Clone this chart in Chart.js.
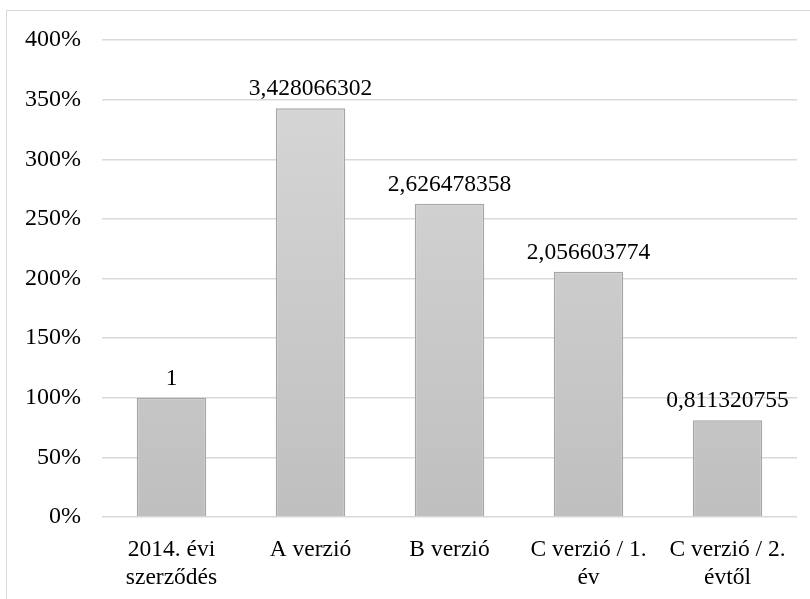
<!DOCTYPE html>
<html lang="hu">
<head>
  <meta charset="UTF-8">
  <title>Verziók összehasonlítása</title>
  <script src="https://cdn.jsdelivr.net/npm/chart.js"></script>
  <style>
    html, body { margin: 0; padding: 0; background: #fff; overflow: hidden; }
    #frame { position: absolute; left: 6px; top: 10px; width: 900px; height: 700px; border: 1.5px solid #d9d9d9; }
    #wrap { position: absolute; left: 0; top: 0; width: 810px; height: 599px; }
  </style>
</head>
<body>
  <div id="frame"></div>
  <div id="wrap"><canvas id="chart" width="810" height="599"></canvas></div>

  <script>
    const categories = [["2014. évi", "szerződés"], "A verzió", "B verzió", ["C verzió / 1.", "év"], ["C verzió / 2.", "évtől"]];
    const values = [1, 3.428066302, 2.626478358, 2.056603774, 0.811320755];
    const valueLabels = ["1", "3,428066302", "2,626478358", "2,056603774", "0,811320755"];
    const yTicks = [0, 0.5, 1, 1.5, 2, 2.5, 3, 3.5, 4];

    const fontFamily = "'Liberation Serif', 'Times New Roman', serif";

    // labels above the bars
    const barLabels = {
      id: "barLabels",
      afterDatasetsDraw(chart) {
        const ctx = chart.ctx;
        const meta = chart.getDatasetMeta(0);
        ctx.save();
        ctx.font = "23.5px " + fontFamily;
        ctx.fillStyle = "#000";
        ctx.textAlign = "center";
        ctx.textBaseline = "alphabetic";
        meta.data.forEach((bar, i) => {
          ctx.fillText(valueLabels[i], bar.x, bar.y - 13);
        });
        ctx.restore();
      }
    };

    new Chart(document.getElementById("chart"), {
      type: "bar",
      data: {
        labels: categories,
        datasets: [{
          data: values,
          backgroundColor: (c) => {
            const area = c.chart.chartArea;
            if (!area) return "#cccccc";
            const g = c.chart.ctx.createLinearGradient(0, area.top, 0, area.bottom);
            g.addColorStop(0, "#d9d9d9");
            g.addColorStop(1, "#bfbfbf");
            return g;
          },
          borderColor: "#a6a6a6",
          borderWidth: 1.5,
          categoryPercentage: 1,
          barPercentage: 0.5
        }]
      },
      options: {
        responsive: false,
        animation: false,
        layout: { padding: { left: 0, right: 13, top: 40, bottom: 0 } },
        plugins: {
          legend: { display: false },
          tooltip: { enabled: false }
        },
        scales: {
          x: {
            grid: { display: false },
            border: { display: false },
            ticks: {
              color: "#000",
              font: { family: fontFamily, size: 23.5, lineHeight: 1.2 },
              padding: 11,
              maxRotation: 0,
              autoSkip: false
            },
            afterFit: (s) => { s.height = 82; }
          },
          y: {
            min: 0,
            max: 4,
            afterBuildTicks: (s) => { s.ticks = yTicks.map(v => ({ value: v })); },
            grid: { color: "#d9d9d9", lineWidth: 1.5, drawTicks: false },
            border: { display: false },
            ticks: {
              color: "#000",
              font: { family: fontFamily, size: 24 },
              padding: 21,
              callback: (v) => Math.round(v * 100) + "%"
            },
            afterFit: (s) => { s.width = 102; }
          }
        }
      },
      plugins: [barLabels]
    });
  </script>
</body>
</html>
